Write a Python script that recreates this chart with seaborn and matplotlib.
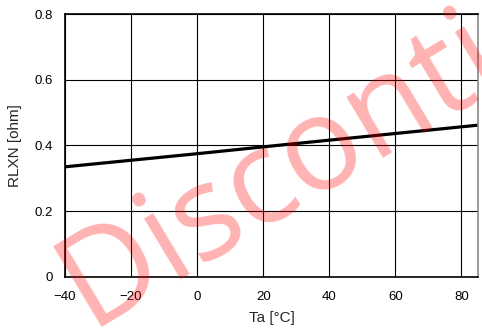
import pandas as pd
import seaborn as sns
import matplotlib.pyplot as plt

# RLXN vs ambient temperature
ta = [-40, 0, 25, 85]
rlxn = [0.335, 0.375, 0.401, 0.462]
xticks = [-40, -20, 0, 20, 40, 60, 80]
yticks = [0, 0.2, 0.4, 0.6, 0.8]
ylabels = ['0', '0.2', '0.4', '0.6', '0.8']

df = pd.DataFrame({'Ta': ta, 'RLXN': rlxn})

sns.set_style('white')
plt.rcParams['font.family'] = ['Liberation Sans', 'DejaVu Sans']

fig = plt.figure(figsize=(4.82, 3.3), dpi=100)
ax = fig.add_axes([0.1349, 0.1615, 0.8568, 0.7952])

sns.lineplot(data=df, x='Ta', y='RLXN', color='black', linewidth=2.3, ax=ax)

ax.set_xlim(-40, 85)
ax.set_ylim(0, 0.8)
ax.set_xticks(xticks)
ax.set_yticks(yticks)
ax.set_yticklabels(ylabels)
ax.grid(True, color='black', linewidth=0.8)
for s in ax.spines.values():
    s.set_color('black')
    s.set_linewidth(1.2)
ax.spines['right'].set_color('#888888')
ax.tick_params(axis='x', length=0, labelsize=9.5, colors='black', pad=10)
ax.tick_params(axis='y', length=0, labelsize=9.5, colors='black', pad=9)
ax.set_xlabel('Ta [°C]', fontsize=11, labelpad=6)
ax.set_ylabel('RLXN [ohm]', fontsize=11, labelpad=9)

fig.text(0.185, 0.008, 'Discontinued', rotation=31, color='red', alpha=0.3,
         fontsize=94, family='Open Sans', ha='left', va='baseline',
         rotation_mode='anchor')

fig.savefig('out.png', dpi=100)
